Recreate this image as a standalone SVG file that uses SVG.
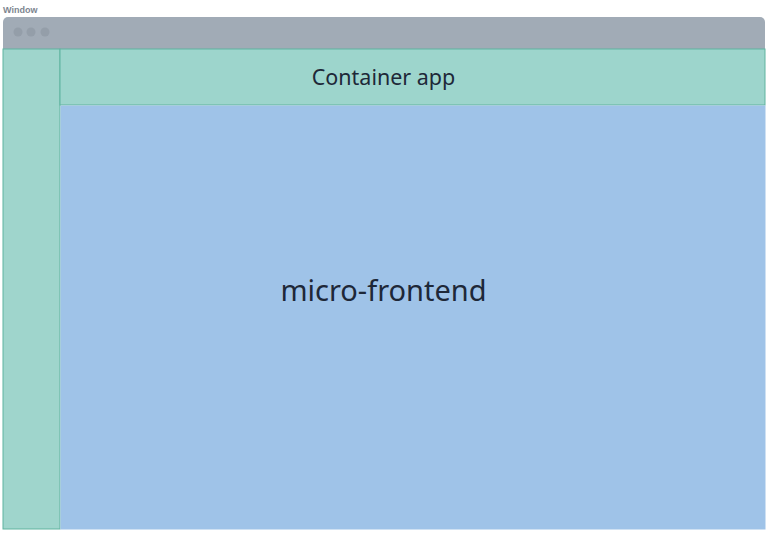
<svg xmlns="http://www.w3.org/2000/svg" width="768" height="534" viewBox="0 0 768 534">
<style>
.lbl{font-family:"Noto Sans","Liberation Sans",sans-serif;fill:#1e2838;text-anchor:middle}
.pane{stroke:#5fb39f;stroke-width:1}
</style>
<rect width="768" height="534" fill="#ffffff"/>
<text x="3" y="13" font-family="Liberation Sans, sans-serif" font-size="9" font-weight="bold" fill="#7d8590">Window</text>
<g id="window">
<path d="M3,22 a5,5 0 0 1 5,-5 h752 a5,5 0 0 1 5,5 V49 H3 Z" fill="#a1abb6"/>
<circle cx="18" cy="32" r="4.5" fill="#949ea9"/>
<circle cx="31" cy="32" r="4.5" fill="#949ea9"/>
<circle cx="45" cy="32" r="4.5" fill="#949ea9"/>
</g>
<g id="sidebar">
<rect x="3" y="49" width="57" height="480" fill="#9fd5cc" class="pane"/>
</g>
<g id="container">
<rect x="60" y="49" width="705" height="56" fill="#9dd5cc" class="pane"/>
<text x="383.5" y="85" class="lbl" font-size="21.5">Container app</text>
</g>
<g id="micro-frontend">
<rect x="60.5" y="105.5" width="705" height="424" fill="#9fc3e8"/>
<text x="383.5" y="301" class="lbl" font-size="29">micro-frontend</text>
</g>
<g id="connectors"></g>
</svg>
